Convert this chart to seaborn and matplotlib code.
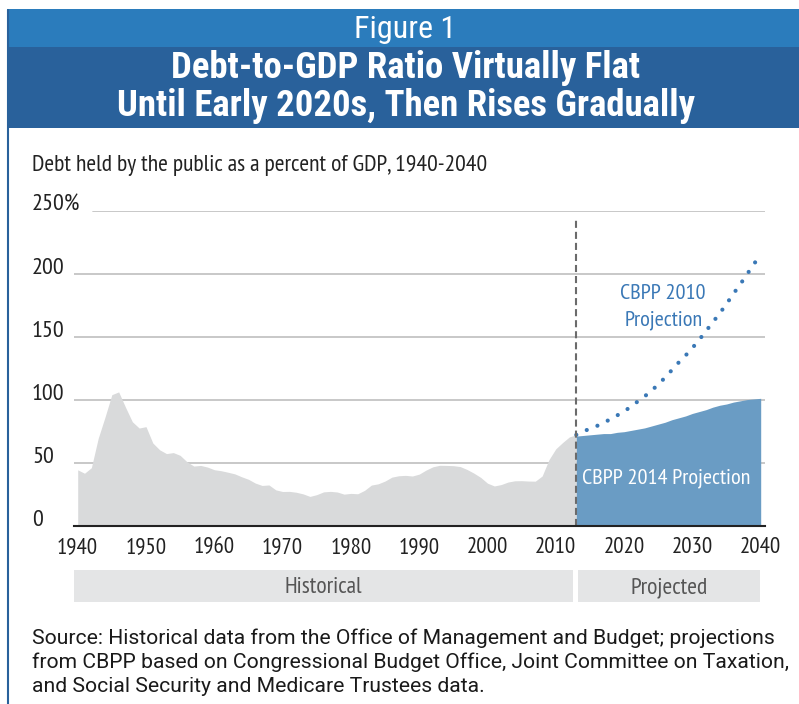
import numpy as np
import pandas as pd
import matplotlib
matplotlib.use("Agg")
import matplotlib.pyplot as plt
import seaborn as sns
from matplotlib.patches import Rectangle
from matplotlib.lines import Line2D
from matplotlib.transforms import blended_transform_factory

# ---- data -------------------------------------------------------------
hist_years = list(range(1940, 2014))
hist_debt = [
    44.2, 41.5, 45.9, 69.2, 86.1, 103.9, 106.1, 93.9, 82.4, 77.4,   # 1940s
    78.5, 65.5, 60.1, 57.1, 57.9, 55.7, 50.6, 47.2, 47.7, 46.4,     # 1950s
    44.3, 43.5, 42.3, 41.0, 38.7, 36.7, 33.7, 31.8, 32.2, 28.3,     # 1960s
    27.0, 27.1, 26.4, 25.1, 23.1, 24.5, 26.7, 27.1, 26.6, 24.9,     # 1970s
    25.5, 25.2, 27.9, 32.1, 33.1, 35.3, 38.4, 39.5, 39.8, 39.3,     # 1980s
    40.8, 44.0, 46.6, 47.8, 47.7, 47.5, 46.8, 44.5, 41.6, 38.2,     # 1990s
    33.6, 31.4, 32.5, 34.5, 35.5, 35.6, 35.3, 35.2, 39.3, 52.3,     # 2000s
    60.9, 65.9, 70.4, 72.0,                                         # 2010-2013
]

proj_years = list(range(2013, 2041))
proj_2014 = [
    71.0, 71.5, 72.0, 72.5, 73.0, 73.0, 74.0, 74.5, 75.5, 76.5,
    77.5, 79.0, 80.5, 82.0, 84.0, 85.5, 87.0, 89.0, 90.5, 92.0,
    94.0, 95.5, 96.5, 98.0, 99.0, 100.0, 100.5, 101.0,
]
proj_2010 = [
    72.0, 74.5, 77.0, 79.0, 81.5, 84.5, 87.5, 90.5, 94.5, 98.5,
    102.5, 107.0, 112.0, 117.5, 123.5, 129.5, 135.0, 141.0, 147.5, 154.5,
    161.5, 168.5, 176.0, 184.0, 191.5, 199.5, 207.5, 215.5,
]

y_ticks = [0, 50, 100, 150, 200, 250]
y_tick_labels = ["0", "50", "100", "150", "200", "250%"]
x_ticks = list(range(1940, 2041, 10))
x_minor = list(range(1940, 2041))
split_year = 2013

period_labels = ["Historical", "Projected"]

# ---- styling ----------------------------------------------------------
sns.set_theme(style="white")
LABEL_FONT = ["PT Sans Narrow", "DejaVu Sans"]
HEAD_FONT = ["Roboto Condensed", "DejaVu Sans"]
NOTE_FONT = ["Roboto", "DejaVu Sans"]
plt.rcParams["font.family"] = LABEL_FONT

LIGHT_BLUE = "#2b7cbc"
DARK_BLUE = "#29619b"
GRAY_AREA = "#d9dadb"
PROJ_BLUE = "#6a9cc4"
DOT_BLUE = "#3a78b6"
GRID = "#c4c4c4"
INK = "#222222"

W, H = 799, 704
fig = plt.figure(figsize=(W / 100, H / 100), dpi=100)


def fx(px):
    return px / W


def fy(py):
    return 1 - py / H


# header bands and left frame line
fig.add_artist(Rectangle((fx(7), fy(47.5)), fx(W - 7), 38.5 / H,
                         transform=fig.transFigure, color=LIGHT_BLUE, lw=0))
fig.add_artist(Rectangle((fx(7), fy(128)), fx(W - 7), 80.5 / H,
                         transform=fig.transFigure, color=DARK_BLUE, lw=0))
fig.add_artist(Line2D([fx(8.2), fx(8.2)], [0, fy(9.5)], transform=fig.transFigure,
                      color=DARK_BLUE, lw=1.5))

fig.text(fx(405), fy(38), "Figure 1", ha="center", va="baseline",
         color="white", fontsize=23, family=HEAD_FONT)
fig.text(fx(406), fy(78.5), "Debt-to-GDP Ratio Virtually Flat", ha="center",
         va="baseline", color="white", fontsize=26.5, fontweight="bold", family=HEAD_FONT)
fig.text(fx(406), fy(116), "Until Early 2020s, Then Rises Gradually", ha="center",
         va="baseline", color="white", fontsize=26.5, fontweight="bold", family=HEAD_FONT)

fig.text(fx(32), fy(170.5), "Debt held by the public as a percent of GDP, 1940-2040",
         ha="left", va="baseline", color=INK, fontsize=17)

# ---- main axes ----------------------------------------------------------
px_per_year = 6.83
ax_left, ax_right = 74.0, 765.0
ax_bottom, ax_top = 525.5, 210.7
ax = fig.add_axes([fx(ax_left), fy(ax_bottom), fx(ax_right - ax_left),
                   (ax_bottom - ax_top) / H])
x0 = 1940 - (77.7 - ax_left) / px_per_year
x1 = x0 + (ax_right - ax_left) / px_per_year
ax.set_xlim(x0, x1)
ax.set_ylim(0, 250)

# horizontal gridlines (the 250% line starts after its wider label)
for yv in y_ticks[1:]:
    start = (93 - ax_left) / (ax_right - ax_left) if yv == 250 else 0
    ax.axhline(yv, xmin=start, xmax=1, color=GRID, lw=1.3, zorder=0)

hist_df = pd.DataFrame({"year": hist_years, "debt": hist_debt})
proj_df = pd.DataFrame({"year": proj_years, "cbpp2014": proj_2014, "cbpp2010": proj_2010})

ax.fill_between(hist_df["year"], hist_df["debt"], color=GRAY_AREA, lw=0, zorder=1)
ax.fill_between(proj_df["year"], proj_df["cbpp2014"], color=PROJ_BLUE, lw=0, zorder=2)

sns.lineplot(data=proj_df, x="year", y="cbpp2010", ax=ax, color=DOT_BLUE,
             lw=3.0, zorder=4)
dotted = ax.lines[-1]
dotted.set_linestyle((0, (0.01, 2.75)))
dotted.set_dash_capstyle("round")

ax.vlines(split_year, 0, 243, colors="#6b6b6b", linestyles=(0, (3.4, 1.9)),
          lw=1.5, zorder=5)

ax.text(2025.6, 200 - (299 - 274) / 1.259, "CBPP 2010", ha="center", va="baseline",
        color=DOT_BLUE, fontsize=16)
ax.text(2025.8, 200 - (326 - 274) / 1.259, "Projection", ha="center", va="baseline",
        color=DOT_BLUE, fontsize=16)
ax.text(2026.2, (525.5 - 483) / 1.259, "CBPP 2014 Projection", ha="center",
        va="baseline", color="white", fontsize=16, zorder=6)

# axes, ticks and labels
for side in ["left", "right", "top"]:
    ax.spines[side].set_visible(False)
ax.spines["bottom"].set_color(INK)
ax.spines["bottom"].set_linewidth(1.5)
ax.spines["bottom"].set_zorder(7)

ax.set_xticks(x_ticks)
ax.set_xticks(x_minor, minor=True)
ax.set_xticklabels([str(x) for x in x_ticks])
ax.tick_params(axis="x", which="major", direction="in", length=8.8, width=1.5,
               color=INK, pad=8.5, labelsize=16.5, labelcolor=INK)
ax.tick_params(axis="x", which="minor", direction="in", length=5.2, width=0.9,
               color=INK)
ax.set_yticks(y_ticks)
ax.set_yticklabels(y_tick_labels)
ax.tick_params(axis="y", length=0, pad=(ax_left - 32) * 0.72, labelsize=17.5,
               labelcolor=INK)
for lab in ax.get_yticklabels():
    lab.set_horizontalalignment("left")
    lab.set_verticalalignment("baseline")
ax.set_xlabel("")
ax.set_ylabel("")
ax.grid(False)

# period bars under the year labels
band = blended_transform_factory(ax.transData, fig.transFigure)
spans = [(x0, 2012.56), (2013.3, 2039.9)]
for (a, b), name in zip(spans, period_labels):
    ax.add_patch(Rectangle((a, fy(601.7)), b - a, 31.7 / H, transform=band,
                           facecolor="#e4e5e6", lw=0, clip_on=False))
    ax.text((a + b) / 2, fy(593), name, transform=band, ha="center",
            va="baseline", color="#555555", fontsize=17, clip_on=False)

source = ("Source: Historical data from the Office of Management and Budget; projections\n"
          "from CBPP based on Congressional Budget Office, Joint Committee on Taxation,\n"
          "and Social Security and Medicare Trustees data.")
fig.text(fx(32), fy(692), source, ha="left", va="baseline", color="#1a1a1a",
         fontsize=15.2, family=NOTE_FONT, linespacing=1.3)

fig.savefig("out.png", dpi=100, facecolor="white")
